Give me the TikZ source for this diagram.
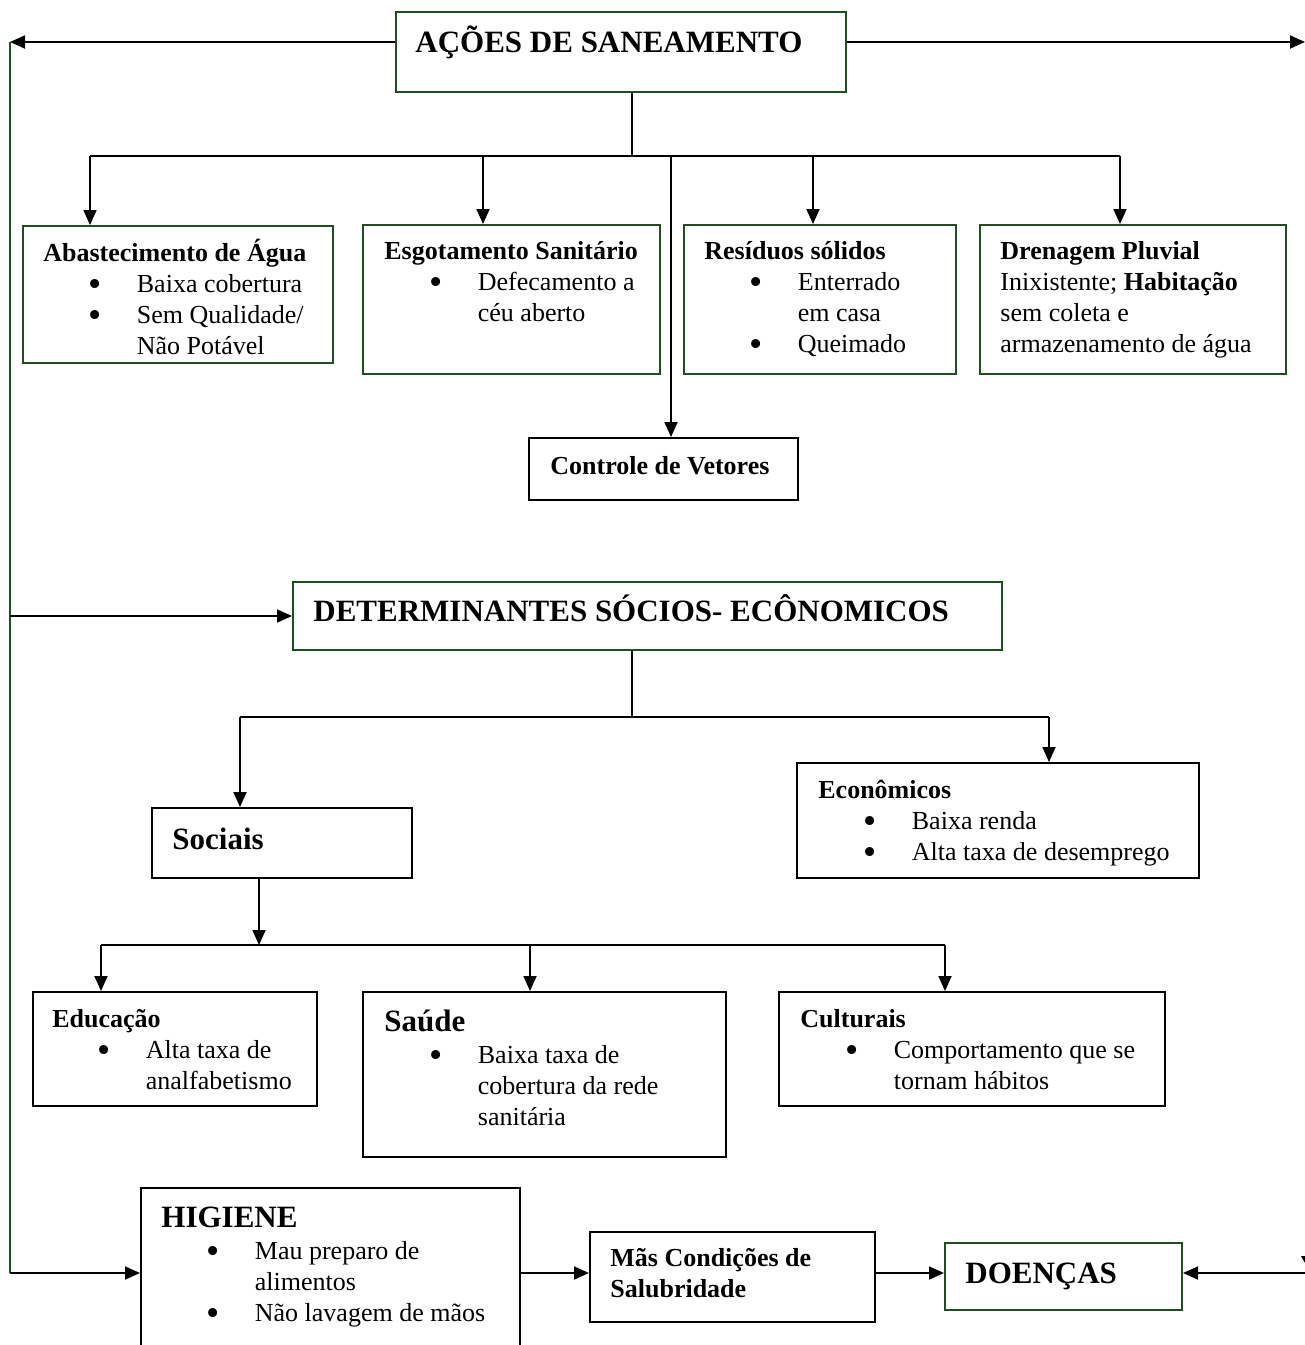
\documentclass[tikz,border=0pt]{standalone}
\usepackage{fontspec}
\setmainfont{Liberation Serif}
\usetikzlibrary{arrows.meta,fit}
\definecolor{dg}{RGB}{31,78,31}
\newcommand\bi[1]{\makebox[46.75pt][l]{\hspace*{22.7pt}\smash{\raisebox{-2.2pt}{\scalebox{1.45}{\textbullet}}}}#1}
\newcommand\ci[1]{\hspace*{46.75pt}#1}
\begin{document}
\begin{tikzpicture}[x=0.5pt,y=-0.5pt,
  gbox/.style={draw=dg, line width=1pt, inner sep=0pt},
  kbox/.style={draw=black, line width=1pt, inner sep=0pt},
  txt/.style={inner sep=0pt, anchor=base west, font=\fontsize{13}{15.5}\selectfont},
  big/.style={inner sep=0pt, anchor=base west, font=\fontsize{15.5}{18}\selectfont\bfseries},
  conn/.style={draw=black, line width=0.9pt},
  arr/.style={conn, -{Triangle[length=7.5pt,width=6.5pt]}},
  gline/.style={draw=dg, line width=0.9pt}]
\useasboundingbox (0,0) rectangle (1305,1345);

% ---------- boxes ----------
\node[gbox, fit={(396,12) (846,92)}] (acoes) {};
\node[gbox, fit={(23,226) (333,363)}] (abas) {};
\node[gbox, fit={(363,225) (660,374)}] (esg) {};
\node[gbox, fit={(684,225) (956,374)}] (res) {};
\node[gbox, fit={(980,225) (1286,374)}] (dren) {};
\node[kbox, fit={(529,438) (798,500)}] (vet) {};
\node[gbox, fit={(293,582) (1002,650)}] (det) {};
\node[kbox, fit={(152,808) (412,878)}] (soc) {};
\node[kbox, fit={(797,763) (1199,878)}] (eco) {};
\node[kbox, fit={(33,992) (317,1106)}] (edu) {};
\node[kbox, fit={(363,992) (726,1157)}] (sau) {};
\node[kbox, fit={(779,992) (1165,1106)}] (cul) {};
\node[kbox, fit={(141,1188) (520,1360)}] (hig) {};
\node[kbox, fit={(590,1232) (875,1322)}] (mas) {};
\node[gbox, fit={(945,1243) (1182,1310)}] (doe) {};

% ---------- texts ----------
\node[big] (acoesT) at (415,52) {AÇÕES DE SANEAMENTO};
\node[txt] (abasT) at (43,261) {\begin{tabular}[t]{@{}l@{}}\textbf{Abastecimento de Água}\\ \bi{Baixa cobertura}\\ \bi{Sem Qualidade/}\\ \ci{Não Potável}\end{tabular}};
\node[txt] (esgT) at (384,259) {\begin{tabular}[t]{@{}l@{}}\textbf{Esgotamento Sanitário}\\ \bi{Defecamento a}\\ \ci{céu aberto}\end{tabular}};
\node[txt] (resT) at (704,259) {\begin{tabular}[t]{@{}l@{}}\textbf{Resíduos sólidos}\\ \bi{Enterrado}\\ \ci{em casa}\\ \bi{Queimado}\end{tabular}};
\node[txt] (drenT) at (1000,259) {\begin{tabular}[t]{@{}l@{}}\textbf{Drenagem Pluvial}\\ Inixistente; \textbf{Habitação}\\ sem coleta e\\ armazenamento de água\end{tabular}};
\node[txt] (vetT) at (550,474) {\textbf{Controle de Vetores}};
\node[big] (detT) at (313,621) {DETERMINANTES SÓCIOS- ECÔNOMICOS};
\node[big] (socT) at (172,849) {Sociais};
\node[txt] (ecoT) at (818,798) {\begin{tabular}[t]{@{}l@{}}\textbf{Econômicos}\\ \bi{Baixa renda}\\ \bi{Alta taxa de desemprego}\end{tabular}};
\node[txt] (eduT) at (52,1027) {\begin{tabular}[t]{@{}l@{}}\textbf{Educação}\\ \bi{Alta taxa de}\\ \ci{analfabetismo}\end{tabular}};
\node[big] (sauH) at (384,1031) {Saúde};
\node[txt] (sauT) at (384,1063) {\begin{tabular}[t]{@{}l@{}}\bi{Baixa taxa de}\\ \ci{cobertura da rede}\\ \ci{sanitária}\end{tabular}};
\node[txt] (culT) at (800,1027) {\begin{tabular}[t]{@{}l@{}}\textbf{Culturais}\\ \bi{Comportamento que se}\\ \ci{tornam hábitos}\end{tabular}};
\node[big] (higH) at (161,1227) {HIGIENE};
\node[txt] (higT) at (161,1259) {\begin{tabular}[t]{@{}l@{}}\bi{Mau preparo de}\\ \ci{alimentos}\\ \bi{Não lavagem de mãos}\end{tabular}};
\node[txt] (masT) at (610,1266) {\begin{tabular}[t]{@{}l@{}}\textbf{Mãs Condições de}\\ \textbf{Salubridade}\end{tabular}};
\node[big] (doeT) at (965,1283) {DOENÇAS};

% ---------- junction coordinates ----------
\coordinate (L1) at (10,42);
\coordinate (R1) at (1305,42);
\coordinate (L2) at (10,1273);
\coordinate (R2) at (1305,1273);
\coordinate (T) at (632,156);
\coordinate (h1L) at (90,156);
\coordinate (h1R) at (1120,156);
\coordinate (j2) at (483,156);
\coordinate (j3) at (813,156);
\coordinate (j5) at (671,157);
\coordinate (T2) at (632,717);
\coordinate (h2L) at (240,717);
\coordinate (h2R) at (1049,717);
\coordinate (T3) at (259,945);
\coordinate (h3L) at (101,945);
\coordinate (h3M) at (530,945);
\coordinate (h3R) at (945,945);

% ---------- connectors ----------
\draw[arr] (acoes.west |- L1) -- (L1);
\draw[arr] (acoes.east |- R1) -- (R1);
\draw[gline] (L1) -- (L2);
\draw[arr] (L1 |- det.west) -- (det.west);
\draw[arr] (L2) -- (hig.west |- L2);

\draw[conn] (acoes.south -| T) -- (T);
\draw[conn] (h1L) -- (h1R);
\draw[arr] (h1L) -- (h1L |- abas.north);
\draw[arr] (j2) -- (j2 |- esg.north);
\draw[arr] (j3) -- (j3 |- res.north);
\draw[arr] (h1R) -- (h1R |- dren.north);
\draw[arr] (j5) -- (j5 |- vet.north);

\draw[conn] (det.south -| T2) -- (T2);
\draw[conn] (h2L) -- (h2R);
\draw[arr] (h2L) -- (h2L |- soc.north);
\draw[arr] (h2R) -- (h2R |- eco.north);

\draw[arr] (soc.south -| T3) -- (T3);
\draw[conn] (h3L) -- (h3R);
\draw[arr] (h3L) -- (h3L |- edu.north);
\draw[arr] (h3M) -- (h3M |- sau.north);
\draw[arr] (h3R) -- (h3R |- cul.north);

\draw[arr] (hig.east |- L2) -- (mas.west |- L2);
\draw[arr] (mas.east |- L2) -- (doe.west |- L2);
\draw[arr] (R2) -- (doe.east |- R2);
\fill (1301,1256) -- (1315,1256) -- (1308,1268) -- cycle;
\end{tikzpicture}
\end{document}
